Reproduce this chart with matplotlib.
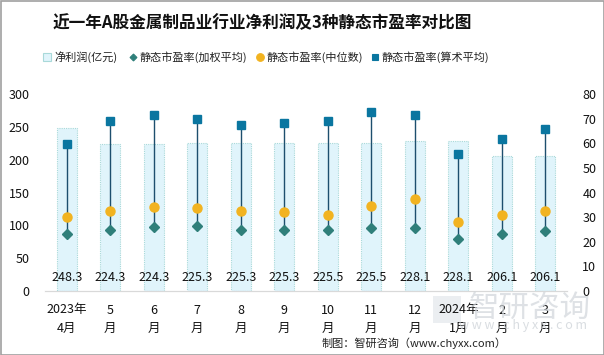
import matplotlib
matplotlib.use("Agg")
import matplotlib.pyplot as plt
from matplotlib.lines import Line2D
from matplotlib.patches import Rectangle
import matplotlib.transforms as mtransforms

plt.rcParams['font.family'] = ['Noto Sans CJK SC', 'DejaVu Sans']

categories = ["2023年\n4月", "5\n月", "6\n月", "7\n月", "8\n月", "9\n月", "10\n月",
              "11\n月", "12\n月", "2024年\n1月", "2\n月", "3\n月"]
net_profit = [248.3, 224.3, 224.3, 225.3, 225.3, 225.3, 225.5, 225.5, 228.1, 228.1, 206.1, 206.1]
pe_weighted = [23.3, 24.7, 26.0, 26.3, 24.7, 24.7, 24.7, 25.6, 25.6, 21.0, 23.1, 24.3]
pe_median = [30.0, 32.5, 34.0, 33.6, 32.5, 32.0, 30.9, 34.4, 37.3, 27.9, 30.9, 32.5]
pe_mean = [59.8, 69.1, 71.5, 69.9, 67.5, 68.3, 69.1, 72.8, 71.6, 55.7, 61.8, 65.9]

c_bar = "#e0f4fb"
c_bar_edge = "#a9d9d9"
c_sq = "#0a76a0"
c_circ = "#f2b320"
c_dia = "#2f7f7a"
c_line = "#1d4f6e"

fig = plt.figure(figsize=(6.04, 3.55), dpi=100)
fig.patch.set_facecolor("white")
ax = fig.add_axes([45/604, 1-291/355, (567-45)/604, (291-94)/355])
ax2 = ax.twinx()

x = list(range(len(categories)))
ax.bar(x, net_profit, width=0.45, color=c_bar, edgecolor=c_bar_edge,
       linewidth=0.8, linestyle=(0, (1, 1)), zorder=1)
ax.set_ylim(0, 300)
ax.set_yticks([0, 50, 100, 150, 200, 250, 300])
ax.set_xlim(-0.5, len(categories) - 0.5)
ax.set_xticks(x)
ax.set_xticklabels(categories, fontsize=9, linespacing=1.55)

trans = mtransforms.blended_transform_factory(ax.transData, ax.transAxes)
for xi, v in zip(x, net_profit):
    ax.text(xi, 0.066, f"{v:.1f}", transform=trans, ha="center", va="center",
            fontsize=9, color="#111111", zorder=5)

ax2.set_ylim(0, 80)
ax2.set_yticks([0, 10, 20, 30, 40, 50, 60, 70, 80])
for xi, lo, hi in zip(x, pe_weighted, pe_mean):
    ax2.plot([xi, xi], [lo, hi], color=c_line, linewidth=1.0, zorder=2)
ax2.plot(x, pe_mean, linestyle="none", marker="s", markersize=6, color=c_sq, zorder=4)
ax2.plot(x, pe_median, linestyle="none", marker="o", markersize=6.5, color=c_circ, zorder=4)
ax2.plot(x, pe_weighted, linestyle="none", marker="D", markersize=4.8, color=c_dia, zorder=4)

for a in (ax, ax2):
    for s in ["top", "left", "right"]:
        a.spines[s].set_visible(False)
    a.spines["bottom"].set_color("#d9d9d9")
    a.tick_params(axis="both", length=0, labelsize=9, colors="#111111")
ax.tick_params(axis="y", pad=11)
ax2.tick_params(axis="y", pad=11)
ax.tick_params(axis="x", pad=9)

# Title
fig.text(262/604, 1-23/355, "近一年A股金属制品业行业净利润及3种静态市盈率对比图",
         ha="center", va="center", fontsize=12, fontweight="bold", color="#111111")

# Legend (manual)
ly = 1 - 57/355
leg = [
    ("s", c_bar, c_bar_edge, 6, 47, "净利润(亿元)"),
    ("D", c_dia, c_dia, 3.5, 133, "静态市盈率(加权平均)"),
    ("o", c_circ, c_circ, 5.5, 260, "静态市盈率(中位数)"),
    ("s", c_sq, c_sq, 5, 375, "静态市盈率(算术平均)"),
]
for m, fc, ec, ms, px, label in leg:
    fig.add_artist(Line2D([px/604], [ly], marker=m, markersize=ms, markerfacecolor=fc,
                          markeredgecolor=ec, markeredgewidth=0.8, linestyle="none",
                          transform=fig.transFigure))
    fig.text((px + 7)/604, ly, label, ha="left", va="center", fontsize=8, color="#222222")

# Watermark
fig.add_artist(Rectangle((433/604, 1-323/355), 28/604, 27/355, transform=fig.transFigure,
                         facecolor="#e3e7ec", edgecolor="none", alpha=0.7, zorder=0))
fig.text(530/604, 1-308/355, "智研咨询", ha="center", va="center", fontsize=22,
         color="#d0d5da", alpha=0.7, zorder=0)
fig.text(523/604, 1-326/355, "w w w . c h y x x . c o m", ha="center", va="center",
         fontsize=9, color="#d0d5da", alpha=0.8, zorder=0)

# Source
fig.text(507/604, 1-343/355, "制图：智研咨询（www.chyxx.com）", ha="right", va="center",
         fontsize=8, color="#222222")

# Border
fig.add_artist(Rectangle((0.5/604, 0.5/355), 603/604, 354/355, transform=fig.transFigure,
                         facecolor="none", edgecolor="#a0a0a0", linewidth=1.2))

fig.savefig("out.png", dpi=100)
